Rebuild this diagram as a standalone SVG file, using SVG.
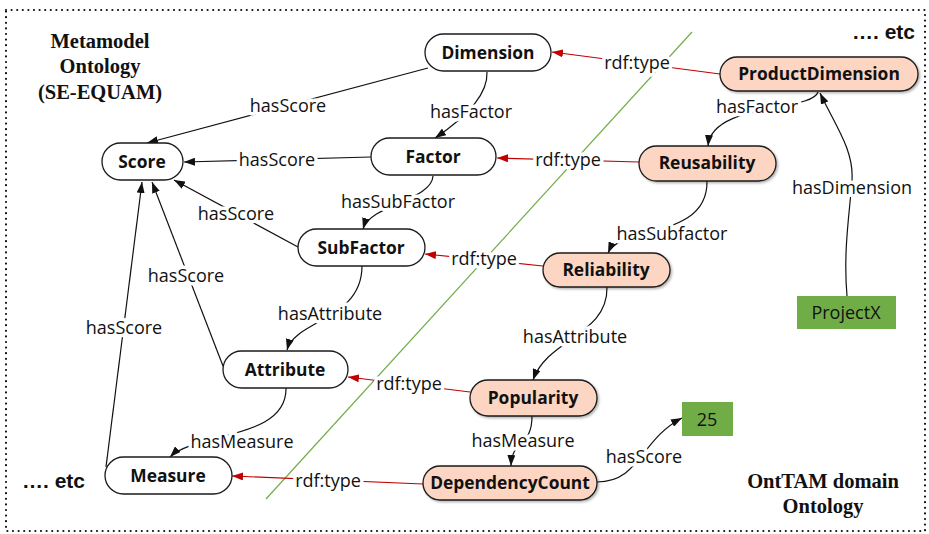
<svg xmlns="http://www.w3.org/2000/svg" width="929" height="534" viewBox="0 0 929 534">
<defs>
<style>
.node rect{stroke:#1a1a1a;stroke-width:1.3}
.w rect{fill:#ffffff}
.p rect{fill:#fcd6c2;filter:url(#sh)}
.g rect{fill:#70ad47;stroke:none}
.nt{font-family:"Open Sans","Liberation Sans",sans-serif;font-weight:bold;font-size:17.4px;fill:#111;text-anchor:middle}
.vt{font-family:"Open Sans","Liberation Sans",sans-serif;font-size:18px;fill:#111;text-anchor:middle}
.lbl{font-family:"Open Sans","Liberation Sans",sans-serif;font-size:18px;fill:#111;text-anchor:middle;stroke:#fff;stroke-width:7;stroke-linejoin:round;paint-order:stroke}
.e{fill:none;stroke:#111;stroke-width:1.2;marker-end:url(#ab)}
.r{fill:none;stroke:#c00000;stroke-width:1.2;marker-end:url(#ar)}
.title{font-family:"Liberation Serif",serif;font-weight:bold;font-size:20.5px;fill:#111;text-anchor:middle}
.etc{font-family:"Liberation Sans",sans-serif;font-weight:bold;font-size:21px;fill:#111}
</style>
<marker id="ab" markerUnits="userSpaceOnUse" markerWidth="11" markerHeight="8" viewBox="0 0 11 8" refX="11" refY="4" orient="auto"><path d="M0,0 L11,4 L0,8 z" fill="#111"/></marker>
<marker id="ar" markerUnits="userSpaceOnUse" markerWidth="11" markerHeight="8" viewBox="0 0 11 8" refX="11" refY="4" orient="auto"><path d="M0,0 L11,4 L0,8 z" fill="#c00000"/></marker>
<filter id="sh" x="-10%" y="-20%" width="130%" height="160%"><feDropShadow dx="1.5" dy="1.5" stdDeviation="1" flood-color="#000" flood-opacity="0.3"/></filter>
</defs>
<rect x="6" y="10" width="919" height="521" fill="none" stroke="#111" stroke-width="2.2" stroke-linecap="round" stroke-dasharray="0 5.6"/>
<line x1="266" y1="499" x2="692" y2="32" stroke="#70ad47" stroke-width="1.2"/>
<text class="title" x="100" y="48">Metamodel</text>
<text class="title" x="100" y="73">Ontology</text>
<text class="title" x="100" y="99">(SE-EQUAM)</text>
<text class="title" x="823" y="488">OntTAM domain</text>
<text class="title" x="823" y="513">Ontology</text>
<text class="etc" x="915" y="39" text-anchor="end">…. etc</text>
<text class="etc" x="22" y="488">…. etc</text>
<g id="connectors">
<path class="e" d="M428,68 L147,143"/>
<path class="e" d="M371,157 L184,162"/>
<path class="e" d="M298,247 L174,180"/>
<path class="e" d="M223,366 L152,182"/>
<path class="e" d="M106,467 L142,182"/>
<path class="e" d="M487,72 C488,95 465,118 435,138"/>
<path class="e" d="M433,176 C432,200 370,205 363,229"/>
<path class="e" d="M362,266 C362,320 295,320 287,350"/>
<path class="e" d="M286,388 C287,440 195,432 170,457"/>
<path class="r" d="M720,74 L552,52"/>
<path class="r" d="M639,162 L497,158"/>
<path class="r" d="M543,266 L425,254"/>
<path class="r" d="M470,392 L348,377"/>
<path class="r" d="M423,484 L232,476"/>
<path class="e" d="M818,92 C812,112 712,102 708,146"/>
<path class="e" d="M847,296 C843,250 850,210 852,180 C854,150 835,125 820,93"/>
<path class="e" d="M707,181 C708,240 620,225 608,253"/>
<path class="e" d="M607,287 C608,335 548,338 533,380"/>
<path class="e" d="M532,416 C532,448 512,438 511,466"/>
<path class="e" d="M597,482 C640,482 640,440 682,418"/>
<text class="lbl" x="288" y="112">hasScore</text>
<text class="lbl" x="277" y="166">hasScore</text>
<text class="lbl" x="236" y="220">hasScore</text>
<text class="lbl" x="186" y="282">hasScore</text>
<text class="lbl" x="124" y="334">hasScore</text>
<text class="lbl" x="471" y="118">hasFactor</text>
<text class="lbl" x="398" y="208">hasSubFactor</text>
<text class="lbl" x="330" y="320">hasAttribute</text>
<text class="lbl" x="242" y="448">hasMeasure</text>
<text class="lbl" x="637" y="69">rdf:type</text>
<text class="lbl" x="568" y="166">rdf:type</text>
<text class="lbl" x="484" y="265">rdf:type</text>
<text class="lbl" x="409" y="390">rdf:type</text>
<text class="lbl" x="328" y="487">rdf:type</text>
<text class="lbl" x="757" y="113">hasFactor</text>
<text class="lbl" x="852" y="194">hasDimension</text>
<text class="lbl" x="672" y="240">hasSubfactor</text>
<text class="lbl" x="575" y="343">hasAttribute</text>
<text class="lbl" x="523" y="447">hasMeasure</text>
<text class="lbl" x="644" y="463">hasScore</text>
</g>
<g id="n-dimension" class="node w"><rect x="425" y="34" width="126" height="37" rx="18.5"/><text class="nt" x="488" y="59">Dimension</text></g>
<g id="n-factor" class="node w"><rect x="371" y="138" width="125" height="37" rx="18.5"/><text class="nt" x="433" y="163">Factor</text></g>
<g id="n-score" class="node w"><rect x="102" y="143" width="81" height="37" rx="18.5"/><text class="nt" x="142" y="168">Score</text></g>
<g id="n-subfactor" class="node w"><rect x="298" y="229" width="127" height="37" rx="18.5"/><text class="nt" x="361" y="254">SubFactor</text></g>
<g id="n-attribute" class="node w"><rect x="223" y="351" width="125" height="37" rx="18.5"/><text class="nt" x="285" y="376">Attribute</text></g>
<g id="n-measure" class="node w"><rect x="105" y="457" width="127" height="37" rx="18.5"/><text class="nt" x="168" y="482">Measure</text></g>
<g id="n-productdimension" class="node p"><rect x="720" y="57" width="198" height="34" rx="17"/><text class="nt" x="819" y="80">ProductDimension</text></g>
<g id="n-reusability" class="node p"><rect x="639" y="146" width="137" height="35" rx="17.5"/><text class="nt" x="707" y="169">Reusability</text></g>
<g id="n-reliability" class="node p"><rect x="543" y="253" width="127" height="34" rx="17"/><text class="nt" x="606" y="276">Reliability</text></g>
<g id="n-popularity" class="node p"><rect x="470" y="380" width="127" height="36" rx="18"/><text class="nt" x="533" y="404">Popularity</text></g>
<g id="n-dependencycount" class="node p"><rect x="423" y="466" width="174" height="34" rx="17"/><text class="nt" x="510" y="489">DependencyCount</text></g>
<g id="n-projectx" class="node g"><rect x="797" y="296" width="99" height="33"/><text class="vt" x="846" y="319">ProjectX</text></g>
<g id="n-25" class="node g"><rect x="682" y="402" width="51" height="34"/><text class="vt" x="707" y="426">25</text></g>
</svg>
